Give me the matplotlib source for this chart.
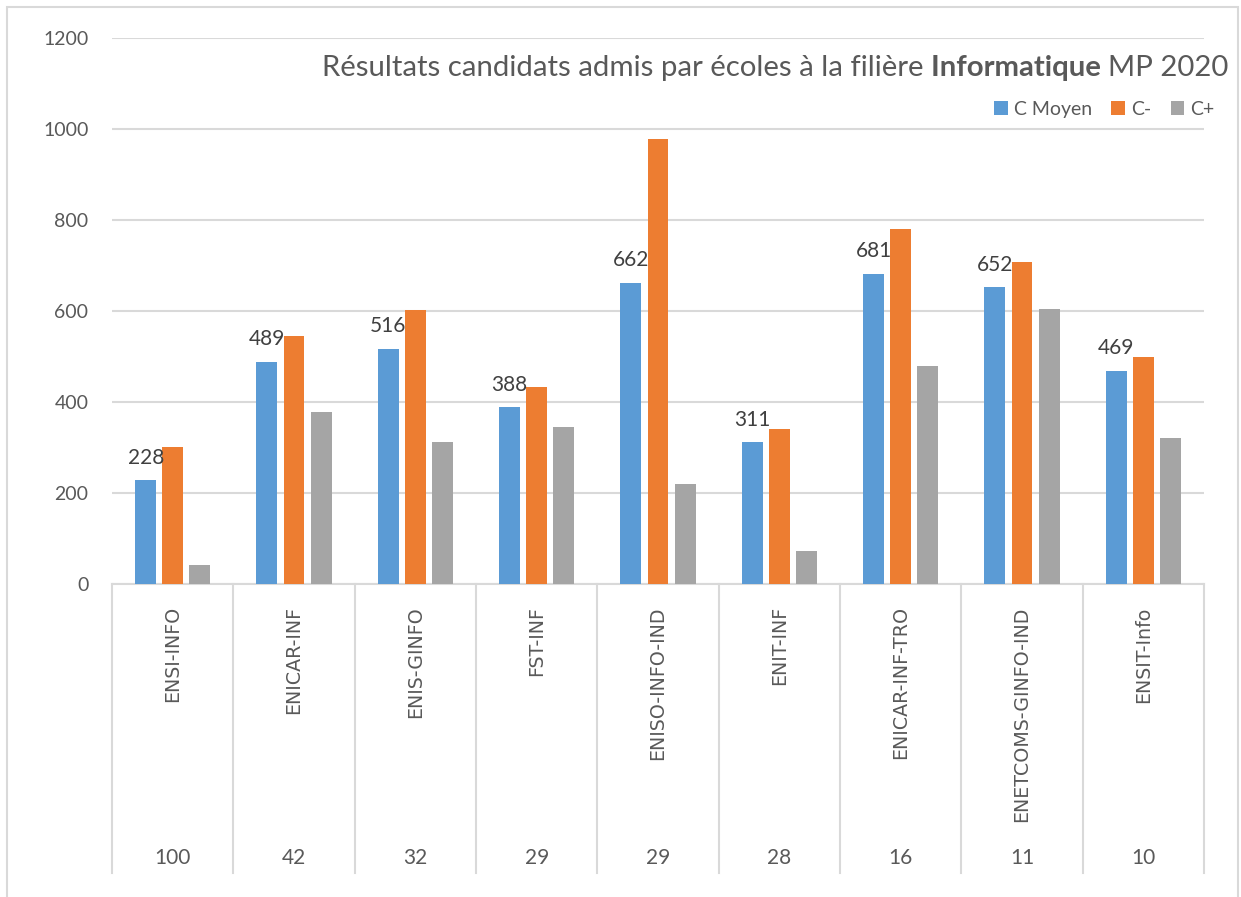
import numpy as np
import matplotlib.pyplot as plt
from matplotlib.patches import Rectangle
import matplotlib.transforms as mtransforms

# données
ecoles = ["ENSI-INFO", "ENICAR-INF", "ENIS-GINFO", "FST-INF", "ENISO-INFO-IND",
          "ENIT-INF", "ENICAR-INF-TRO", "ENETCOMS-GINFO-IND", "ENSIT-Info"]
nb_admis = ["100", "42", "32", "29", "29", "28", "16", "11", "10"]
c_moyen = [228, 489, 516, 388, 662, 311, 681, 652, 469]
c_moins = [302, 545, 602, 434, 977, 340, 780, 708, 498]
c_plus = [41, 377, 312, 345, 219, 72, 479, 604, 320]

W, H = 1241, 897
fig = plt.figure(figsize=(W / 100, H / 100), dpi=100)
txt = "#595959"
grid = "#d9d9d9"
font = "Lato"

# cadre du graphique
fig.patches.append(Rectangle((7 / W, -0.01), (1238 - 7) / W, (H - 7) / H + 0.01,
                             transform=fig.transFigure, fill=False,
                             edgecolor=grid, linewidth=1.5))

ax = fig.add_axes([112 / W, (H - 584) / H, 1092 / W, 546 / H])
x = np.arange(len(ecoles))
bw = 0.173
step = 0.2226
ax.bar(x - step, c_moyen, bw, color="#5b9bd5", label="C Moyen", zorder=3)
ax.bar(x, c_moins, bw, color="#ed7d31", label="C-", zorder=3)
ax.bar(x + step, c_plus, bw, color="#a5a5a5", label="C+", zorder=3)

for xi, v in zip(x, c_moyen):
    ax.text(xi - step, v + 28, str(v), ha="center", va="bottom",
            fontsize=15, color="#404040", family=font, zorder=4)

ax.set_xlim(-0.5, len(ecoles) - 0.5)
ax.set_ylim(0, 1200)
ax.set_yticks(range(0, 1201, 200))
ax.yaxis.grid(True, color=grid, linewidth=1.5, zorder=0)
ax.tick_params(axis="y", length=0, pad=17, labelsize=14, labelcolor=txt)
for lab in ax.get_yticklabels():
    lab.set_family(font)
for s in ["top", "right", "left"]:
    ax.spines[s].set_visible(False)
ax.spines["bottom"].set_color(grid)
ax.spines["bottom"].set_linewidth(1.5)

# axe à deux niveaux
ax.set_xticks(x)
ax.set_xticklabels(ecoles, rotation=90, va="top", ha="center",
                   fontsize=13.7, color=txt, family="DejaVu Sans")
ax.tick_params(axis="x", length=0, pad=16)
trans = mtransforms.blended_transform_factory(ax.transData, ax.transAxes)
for b in np.arange(-0.5, len(ecoles), 1.0):
    ax.plot([b, b], [0, -0.529], transform=trans, color=grid,
            linewidth=1.5, clip_on=False)
for xi, n in zip(x, nb_admis):
    ax.text(xi, -0.502, n, transform=trans, ha="center", va="center",
            fontsize=15, color=txt, family=font)

# titre avec un mot en gras
renderer = fig.canvas.get_renderer()
parts = [("MP 2020", "normal"), ("Informatique ", "bold"),
         ("Résultats candidats admis par écoles à la filière ", "normal")]
xr = 1228 / W
for s, w in parts:
    t = fig.text(xr, 1 - 68 / H, s, ha="right", va="center", fontsize=21.2,
                 color=txt, family=font, weight=w)
    bb = t.get_window_extent(renderer)
    xr -= bb.width / W

leg = ax.legend(loc="upper right", bbox_to_anchor=(1222 / W, 1 - 93 / H),
                bbox_transform=fig.transFigure, ncol=3, frameon=False,
                prop={"family": font, "size": 14}, handlelength=0.7,
                handleheight=0.7, handletextpad=0.3, columnspacing=1.0,
                labelcolor=txt, borderaxespad=0)

fig.savefig("out.png", dpi=100)
